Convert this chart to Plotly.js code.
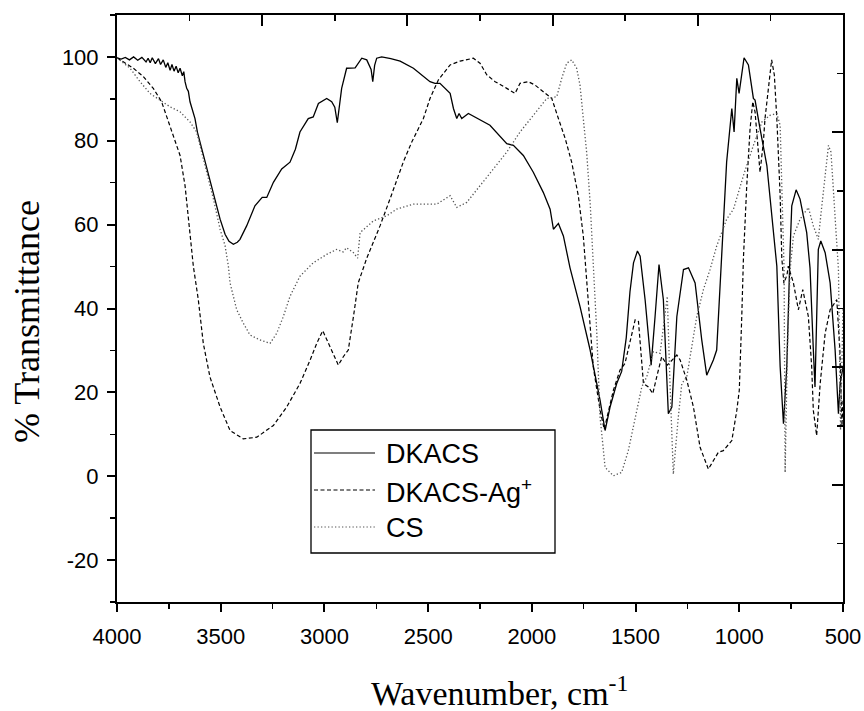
<!DOCTYPE html>
<html>
<head>
<meta charset="utf-8">
<script src="https://cdn.plot.ly/plotly-3.0.1.min.js"></script>
<style>html,body{margin:0;padding:0;background:#fff;}#chart{width:864px;height:711px;}</style>
</head>
<body>
<div id="chart"></div>
<script>
// ---------- DATA ----------
const seriesNames = ["DKACS", "DKACS-Ag<sup>+</sup>", "CS"];

const dkacsWn = [4000,3980,3960,3940,3920,3900,3880,3860,3850,3840,3830,3815,3800,3790,3777,3765,3755,3744,3735,3725,3715,3705,3696,3685,3678,3672,3664,3656,3648,3636,3624,3612,3600,3567,3535,3503,3479,3460,3439,3420,3407,3375,3335,3300,3278,3246,3206,3166,3140,3118,3078,3054,3029,2989,2965,2950,2938,2928,2917,2893,2852,2820,2796,2775,2767,2758,2748,2724,2680,2635,2571,2491,2467,2443,2394,2378,2362,2351,2338,2306,2250,2202,2121,2089,2041,1993,1945,1912,1896,1872,1848,1816,1768,1719,1671,1647,1623,1591,1567,1545,1527,1510,1491,1478,1454,1425,1406,1387,1366,1342,1325,1301,1269,1245,1213,1181,1157,1125,1109,1085,1061,1036,1025,1012,1001,977,956,932,924,900,867,819,803,787,771,755,747,726,707,675,659,643,635,619,607,586,562,538,522,514,500];
const dkacsT = [99.8,99.5,99.9,99.3,100.0,99.2,99.9,98.8,99.7,98.6,99.8,98.4,99.6,98.2,99.3,97.5,98.6,96.8,98.2,96.6,97.8,96.2,97.3,95.5,96.5,94.1,92.5,91.8,89.3,87.5,85.3,82.0,79.7,73.3,67.7,61.3,57.7,56.0,55.3,55.8,56.5,59.7,64.5,66.5,66.5,70.1,73.3,74.9,78.0,82.1,85.3,85.7,88.9,90.1,89.3,88.0,84.3,88.0,92.5,97.3,97.4,99.7,99.3,97.0,94.1,98.0,99.7,100.0,99.6,99.0,97.3,94.1,93.7,93.7,91.3,87.7,85.3,86.5,85.3,86.5,84.9,83.7,79.3,78.9,76.5,72.5,67.7,63.7,58.9,60.3,57.3,49.7,40.5,30.1,18.1,10.9,16.5,22.1,25.0,33.0,44.0,50.9,53.7,52.5,42.1,26.5,38.1,50.5,42.1,14.9,16.5,38.1,49.3,49.7,46.1,32.5,24.1,27.7,30.1,54.1,74.9,87.7,82.1,94.9,91.3,99.8,98.1,90.1,89.7,82.9,74.1,50.1,26.1,12.5,26.1,54.1,64.5,68.3,66.1,58.1,49.7,30.1,21.3,54.1,56.1,53.3,46.1,30.1,14.9,22.1,26.0];

const agWn = [4000,3921,3873,3825,3785,3753,3720,3696,3672,3656,3640,3632,3608,3584,3552,3503,3455,3391,3326,3246,3182,3118,3069,3037,3008,2973,2933,2909,2885,2860,2837,2796,2732,2684,2620,2579,2555,2523,2491,2451,2394,2346,2282,2250,2217,2177,2121,2081,2057,2017,1985,1945,1904,1872,1839,1808,1776,1752,1728,1704,1671,1651,1607,1575,1551,1527,1502,1486,1470,1462,1438,1417,1398,1374,1347,1301,1285,1253,1221,1189,1149,1125,1101,1077,1036,1012,1000,988,980,964,948,935,924,908,900,884,876,844,831,819,803,795,785,770,764,739,715,694,667,651,643,627,610,586,562,530,515,505,500];
const agT = [99.8,97.3,95.3,92.5,89.3,84.5,79.7,76.5,69.3,61.3,54.0,50.1,42.1,31.7,23.7,16.5,10.9,8.9,9.3,12.1,16.5,22.1,27.7,31.7,34.7,30.9,26.5,28.5,30.1,38.1,46.1,52.0,59.7,66.1,74.9,79.7,82.1,85.3,90.1,94.5,98.1,99.0,99.7,98.5,95.7,94.1,92.5,91.3,93.7,94.1,93.3,91.7,90.1,85.3,80.5,74.9,66.9,57.3,42.1,26.1,15.7,11.2,20.5,25.3,26.9,31.7,37.3,36.9,27.7,22.1,21.3,19.7,23.7,28.5,26.5,28.9,27.7,22.9,16.5,6.9,1.7,3.7,5.7,6.1,8.5,15.7,20.5,38.1,52.0,69.3,82.9,89.3,86.9,77.3,72.5,79.7,85.3,99.3,95.7,85.3,66.9,52.0,46.0,48.0,50.1,46.1,39.7,44.5,38.1,26.1,15.7,9.7,22.1,34.1,39.7,42.1,30.0,12.0,18.0];

const csWn = [4000,3937,3889,3841,3793,3744,3696,3648,3616,3584,3535,3503,3479,3463,3455,3423,3391,3359,3311,3262,3230,3198,3166,3118,3054,2989,2941,2910,2893,2860,2840,2828,2764,2700,2652,2571,2458,2394,2362,2314,2250,2186,2121,2057,1993,1928,1880,1856,1832,1808,1784,1768,1752,1736,1719,1704,1687,1671,1647,1607,1567,1535,1494,1470,1446,1414,1382,1358,1347,1334,1318,1294,1277,1253,1205,1173,1141,1109,1061,1028,980,932,891,851,819,803,795,784,779,768,755,739,707,667,643,619,602,570,558,538,522,512,500];
const csT = [99.8,97.3,94.1,91.3,89.7,88.1,86.9,84.5,82.1,75.7,66.1,58.9,55.0,50.1,46.1,39.7,36.5,33.7,32.5,31.7,34.1,38.1,42.9,47.7,50.9,52.9,54.1,53.5,54.5,53.3,52.0,58.1,60.9,62.1,63.7,64.9,64.9,66.9,64.1,65.3,69.3,73.3,77.3,82.1,86.1,90.1,90.5,94.9,98.5,99.3,97.3,93.3,85.3,77.3,65.3,52.0,34.1,14.1,2.1,0.1,0.9,6.1,15.7,21.3,23.7,29.7,29.3,38.1,42.9,22.1,0.5,14.1,22.1,23.7,38.1,44.5,49.3,54.9,61.3,63.7,71.7,78.9,84.5,86.1,86.5,83.7,69.3,49.3,0.9,30.1,49.3,57.3,61.3,64.1,59.7,56.5,64.5,78.9,77.3,61.3,49.3,11.0,40.0];

const xTickVals = [4000,3500,3000,2500,2000,1500,1000,500];
const xTickText = ["4000","3500","3000","2500","2000","1500","1000","500"];
const yTickVals = [-20,0,20,40,60,80,100];
const yTickText = ["-20","0","20","40","60","80","100"];

// ---------- GEOMETRY (plot area in px) ----------
const W = 864, H = 711;
const L = 117, R = 843, T = 15, B = 602;
const px2x = p => (p - L) / (R - L);
const py2y = p => (B - p) / (B - T);

const tickFont = {family: "Liberation Sans, Arial, sans-serif", size: 22, color: "#000"};
const serif = "Liberation Serif, Times New Roman, serif";

const traces = [
  {x: dkacsWn, y: dkacsT, name: seriesNames[0], type: "scatter", mode: "lines",
   line: {color: "#000", width: 1.3, dash: "solid"}},
  {x: agWn, y: agT, name: seriesNames[1], type: "scatter", mode: "lines",
   line: {color: "#000", width: 1.2, dash: "4px,2.5px"}},
  {x: csWn, y: csT, name: seriesNames[2], type: "scatter", mode: "lines",
   line: {color: "#555", width: 1.3, dash: "1.3px,2.2px"}},
  {x: [], y: [], xaxis: "x2", yaxis: "y2", showlegend: false, hoverinfo: "skip", type: "scatter"}
];

// manual legend
const legY = [453, 490, 527];
const legDash = ["solid", "4px,2.5px", "1.3px,2.2px"];
const legColor = ["#000", "#000", "#555"];
const shapes = [{type: "rect", xref: "paper", yref: "paper",
  x0: px2x(311), x1: px2x(555), y0: py2y(553), y1: py2y(430),
  line: {color: "#000", width: 1.3}, fillcolor: "rgba(255,255,255,1)", layer: "above"}];
const annotations = [];
for (let i = 0; i < 3; i++) {
  shapes.push({type: "line", xref: "paper", yref: "paper",
    x0: px2x(314), x1: px2x(375), y0: py2y(legY[i]), y1: py2y(legY[i]),
    line: {color: legColor[i], width: 1.2, dash: legDash[i]}, layer: "above"});
  annotations.push({xref: "paper", yref: "paper", x: px2x(384), y: py2y(legY[i] + 1),
    xanchor: "left", yanchor: "middle", showarrow: false, text: seriesNames[i],
    font: {family: "Liberation Sans, Arial, sans-serif", size: 27, color: "#000"}});
}
annotations.push({xref: "paper", yref: "paper", x: px2x(499), y: py2y(691),
  xanchor: "center", yanchor: "middle", showarrow: false,
  text: "Wavenumber, cm<sup>-1</sup>", font: {family: serif, size: 34, color: "#000"}});
annotations.push({xref: "paper", yref: "paper", x: px2x(27), y: py2y(322),
  xanchor: "center", yanchor: "middle", showarrow: false, textangle: -90,
  text: "% Transmittance", font: {family: serif, size: 36, color: "#000"}});

const layout = {
  width: W, height: H,
  margin: {l: L, r: W - R, t: T, b: H - B, pad: 0},
  paper_bgcolor: "#fff", plot_bgcolor: "#fff",
  showlegend: false,
  xaxis: {range: [4000, 500], autorange: false, tickmode: "array", tickvals: xTickVals, ticktext: xTickText, ticks: "outside",
    ticklen: 8, tickwidth: 2, tickcolor: "#000", showline: true, linewidth: 2, linecolor: "#000",
    showgrid: false, zeroline: false, tickfont: tickFont, ticklabelstandoff: 6,
    minor: {ticks: "outside", dtick: 250, tick0: 500, ticklen: 5, tickwidth: 1.5, tickcolor: "#000", showgrid: false}},
  yaxis: {range: [-30, 110], autorange: false, tickmode: "array", tickvals: yTickVals, ticktext: yTickText, ticks: "outside",
    ticklen: 8, tickwidth: 2, tickcolor: "#000", showline: true, linewidth: 2, linecolor: "#000",
    showgrid: false, zeroline: false, tickfont: tickFont, ticklabelstandoff: 4,
    minor: {ticks: "outside", dtick: 10, tick0: 0, ticklen: 5, tickwidth: 1.5, tickcolor: "#000", showgrid: false}},
  xaxis2: {overlaying: "x", side: "top", anchor: "y", range: [0, 10], autorange: false,
    tick0: 0, dtick: 2, ticks: "inside", ticklen: 11, tickwidth: 2, tickcolor: "#000",
    showticklabels: false, showline: true, linewidth: 2, linecolor: "#000", showgrid: false, zeroline: false,
    minor: {ticks: "inside", dtick: 1, ticklen: 6, tickwidth: 1.5, tickcolor: "#000", showgrid: false}},
  yaxis2: {overlaying: "y", side: "right", anchor: "x", range: [0, 10], autorange: false,
    tick0: 0, dtick: 2, ticks: "inside", ticklen: 11, tickwidth: 2, tickcolor: "#000",
    showticklabels: false, showline: true, linewidth: 2, linecolor: "#000", showgrid: false, zeroline: false,
    minor: {ticks: "inside", dtick: 1, ticklen: 6, tickwidth: 1.5, tickcolor: "#000", showgrid: false}},
  shapes: shapes,
  annotations: annotations
};

Plotly.newPlot("chart", traces, layout, {staticPlot: true, displayModeBar: false});
</script>
</body>
</html>
